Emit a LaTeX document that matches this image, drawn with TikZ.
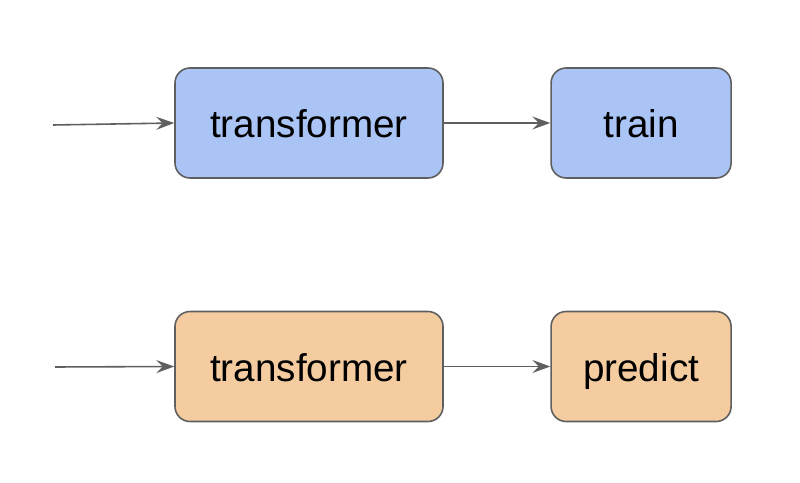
\documentclass[tikz,border=0pt]{standalone}
\usepackage{fontspec}
\setmainfont{Liberation Sans}
\usetikzlibrary{positioning, arrows.meta}
\definecolor{boxblue}{HTML}{A9C4F5}
\definecolor{boxorange}{HTML}{F4CCA0}
\definecolor{lineg}{HTML}{5F5F5F}
\tikzset{
    stage/.style={draw=lineg, line width=0.9pt, rounded corners=0.3cm, minimum height=2.2cm, text height=0.6cm, text depth=0pt, font=\fontsize{22}{24}\selectfont, text=black},
    flow/.style={draw=lineg, line width=0.9pt, -{Stealth[length=3.6mm, width=2.6mm, inset=1.3mm]}}
}
\begin{document}
\begin{tikzpicture}
        \useasboundingbox[fill=white] (0, 0) rectangle (16, 9.64);
        % fit
        \node[stage, fill=boxblue, minimum width=5.36cm] (tf1) at (6.18, 7.18) {transformer};
        \node[stage, fill=boxblue, minimum width=3.6cm, right=2.13cm of tf1] (train) {train};
        \coordinate (in1) at (1.06, 7.14);
        \draw[flow] (in1) -- (tf1.west);
        \draw[flow] (tf1) -- (train);
        % predict
        \node[stage, fill=boxorange, minimum width=5.36cm] (tf2) at (6.18, 2.31) {transformer};
        \node[stage, fill=boxorange, minimum width=3.6cm, right=2.13cm of tf2] (pred) {predict};
        \coordinate (in2) at (1.1, 2.3);
        \draw[flow] (in2) -- (tf2.west);
        \draw[flow] (tf2) -- (pred);
    \end{tikzpicture}
\end{document}
